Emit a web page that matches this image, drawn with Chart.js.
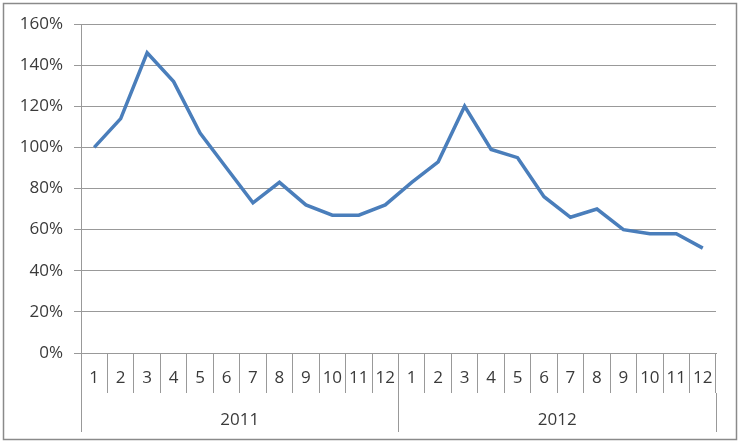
<!DOCTYPE html>
<html>
<head>
<meta charset="utf-8">
<script src="https://cdn.jsdelivr.net/npm/chart.js@4/dist/chart.umd.min.js"></script>
<style>
  html, body { margin: 0; padding: 0; background: #fff; }
  #wrap { width: 740px; height: 443px; position: relative; }
</style>
</head>
<body>
<div id="wrap"><canvas id="chart" width="740" height="443"></canvas></div>
<script>
'use strict';

const years = ['2011', '2012'];
const months = ['1', '2', '3', '4', '5', '6', '7', '8', '9', '10', '11', '12'];
const values2011 = [100, 114, 146, 132, 107, 90, 73, 83, 72, 67, 67, 72];
const values2012 = [83, 93, 120, 99, 95, 76, 66, 70, 60, 58, 58, 51];
const yTicks = [0, 20, 40, 60, 80, 100, 120, 140, 160];

const gridColor = '#999999';
const textColor = '#3a3a3a';
const font = { family: 'Open Sans', size: 17 };

const labels = years.flatMap(() => months);
const values = values2011.concat(values2012);

const framePlugin = {
  id: 'frame',
  afterDraw(chart) {
    const ctx = chart.ctx;
    ctx.save();
    ctx.strokeStyle = '#8a8a8a';
    ctx.lineWidth = 1.5;
    ctx.strokeRect(3.5, 3.5, 733, 436);
    ctx.restore();
  },
};

new Chart(document.getElementById('chart').getContext('2d'), {
  type: 'line',
  data: {
    labels: labels,
    datasets: [{
      data: values,
      borderColor: '#4A7EBB',
      borderWidth: 3.5,
      pointRadius: 0,
      tension: 0,
      fill: false,
    }],
  },
  options: {
    responsive: false,
    animation: false,
    layout: { padding: { left: 0, right: 24, top: 24, bottom: 11 } },
    plugins: { legend: { display: false }, tooltip: { enabled: false } },
    scales: {
      y: {
        min: yTicks[0],
        max: yTicks[yTicks.length - 1],
        afterBuildTicks(scale) {
          scale.ticks = yTicks.map(v => ({ value: v }));
        },
        afterFit(scale) { scale.width = 81; },
        grid: { color: gridColor, tickLength: 7, lineWidth: 1 },
        border: { display: true, color: gridColor },
        ticks: {
          color: textColor,
          font: font,
          padding: 11,
          callback: v => v + '%',
        },
      },
      x: {
        weight: 0,
        offset: true,
        afterFit(scale) { scale.height = 40; },
        grid: { offset: true, drawOnChartArea: false, tickLength: 40, color: gridColor },
        border: { display: true, color: gridColor },
        ticks: {
          color: textColor,
          font: font,
          padding: -25,
          autoSkip: false,
          maxRotation: 0,
        },
      },
      x2: {
        type: 'category',
        position: 'bottom',
        weight: 1,
        labels: years,
        offset: true,
        afterFit(scale) { scale.height = 39; },
        grid: { offset: true, drawOnChartArea: false, tickLength: 39, color: gridColor },
        border: { display: false },
        ticks: {
          color: textColor,
          font: font,
          padding: -22,
          autoSkip: false,
          maxRotation: 0,
        },
      },
    },
  },
  plugins: [framePlugin],
});
</script>
</body>
</html>
